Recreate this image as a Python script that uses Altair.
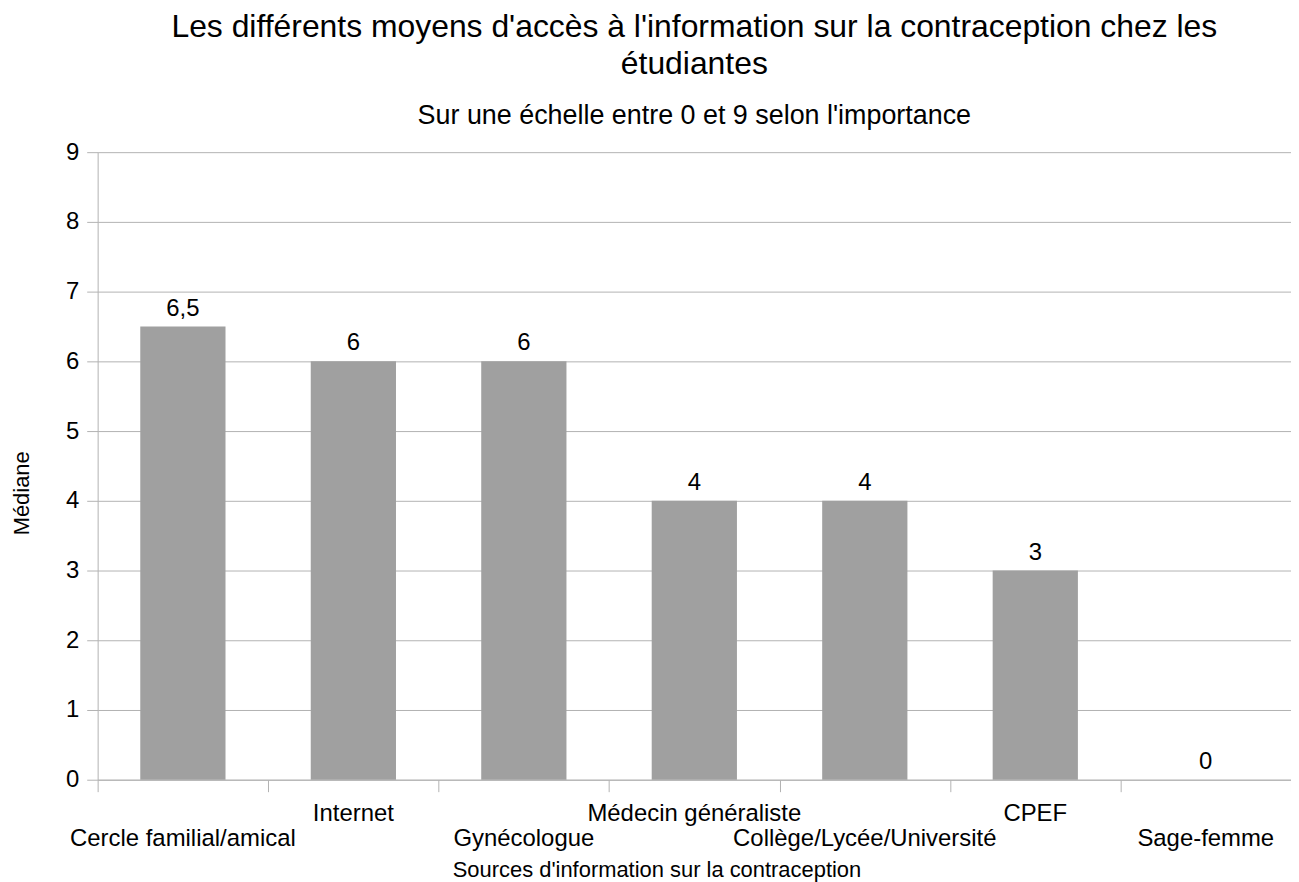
import altair as alt
import pandas as pd

categories = ["Cercle familial/amical", "Internet", "Gynécologue", "Médecin généraliste",
              "Collège/Lycée/Université", "CPEF", "Sage-femme"]
medians = [6.5, 6, 6, 4, 4, 3, 0]
y_ticks = [0, 1, 2, 3, 4, 5, 6, 7, 8, 9]

df = pd.DataFrame({"cat": categories, "v": medians, "idx": list(range(len(categories)))})

FONT = "Liberation Sans"
GRID = "#b3b3b3"
W, H = 1198, 630

base = alt.Chart(df)

x_enc = alt.X(
    "cat:N", sort=categories,
    scale=alt.Scale(paddingInner=0, paddingOuter=0),
    axis=alt.Axis(
        labels=False, tickBand="extent", tickSize=12, tickColor=GRID, domainColor=GRID,
        title="Sources d'information sur la contraception", titleFont=FONT, titleFontSize=22,
        titleFontWeight="normal", titleColor="#000000", titleX=561, titleY=97,
        titleBaseline="alphabetic", titleAnchor="middle", titleAlign="center",
    ),
)

y_enc = alt.Y(
    "v:Q",
    scale=alt.Scale(domain=[0, 9], nice=False),
    axis=alt.Axis(
        values=y_ticks, format="d", tickSize=11, tickColor=GRID, gridColor=GRID, domainColor=GRID,
        labelFont=FONT, labelFontSize=24, labelColor="#000000", labelPadding=8,
        title="Médiane", titleFont=FONT, titleFontSize=22, titleFontWeight="normal",
        titleColor="#000000", titleX=-69, titleY=342, titleAlign="center",
        titleBaseline="alphabetic",
    ),
)

bars = base.mark_bar(color="#a0a0a0", width=alt.RelativeBandSize(0.5)).encode(x=x_enc, y=y_enc)

values_txt = base.transform_calculate(
    lab="replace(format(datum.v, ''), '.', ',')"
).mark_text(dy=-11, baseline="alphabetic", font=FONT, fontSize=24, color="#000000").encode(
    x=alt.X("cat:N", sort=categories), y="v:Q", text="lab:N"
)

lab_up = base.transform_filter("datum.idx % 2 == 1").mark_text(
    baseline="alphabetic", font=FONT, fontSize=24, color="#000000"
).encode(x=alt.X("cat:N", sort=categories), y=alt.value(671), text="cat:N")

lab_down = base.transform_filter("datum.idx % 2 == 0").mark_text(
    baseline="alphabetic", font=FONT, fontSize=24, color="#000000"
).encode(x=alt.X("cat:N", sort=categories), y=alt.value(697), text="cat:N")

chart = alt.layer(bars, values_txt, lab_up, lab_down).properties(
    width=W, height=H,
    title=alt.TitleParams(
        text=["Les différents moyens d'accès à l'information sur la contraception chez les",
              "étudiantes"],
        subtitle="Sur une échelle entre 0 et 9 selon l'importance",
        font=FONT, fontSize=32, fontWeight="normal", color="#000000", lineHeight=38,
        subtitleFont=FONT, subtitleFontSize=27, subtitleColor="#000000",
        subtitlePadding=22, offset=10, anchor="middle",
    ),
    autosize=alt.AutoSizeParams(type="none"),
    padding={"left": 90, "top": 143, "right": 0, "bottom": 112},
).configure_view(stroke="transparent")

chart.save("out.html", embed_options={"renderer": "svg", "actions": False})
